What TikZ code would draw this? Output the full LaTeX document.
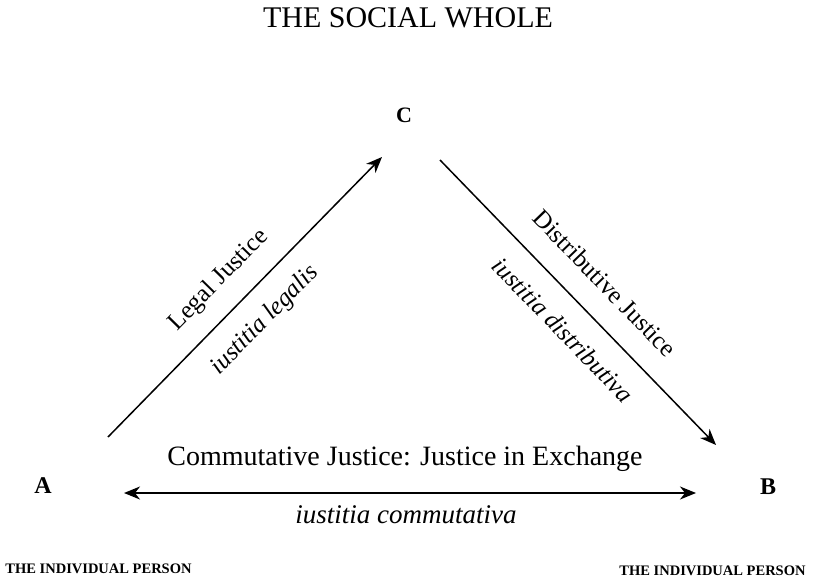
\documentclass[tikz,border=0pt]{standalone}
\usepackage{fontspec}
\setmainfont{Liberation Serif}
\usetikzlibrary{arrows.meta}
\newcommand{\fsz}[1]{\fontsize{#1}{#1}\selectfont}
\begin{document}
\begin{tikzpicture}[x=1pt,y=-1pt,line width=1.5pt,
    tip/.style={-{Stealth[length=16pt,width=13pt,inset=5pt]}},
    tips/.style={{Stealth[length=16pt,width=13pt,inset=5pt]}-{Stealth[length=16pt,width=13pt,inset=5pt]}}]
            \useasboundingbox (0,0) rectangle (813,578);
            \node[anchor=base] (title) at (408,28) {\fsz{30}THE SOCIAL WHOLE};
            \node[anchor=base] (C) at (404,122) {\fsz{22}\bfseries C};
            \node[anchor=base] (A) at (43,493) {\fsz{24}\bfseries A};
            \node[anchor=base] (B) at (768,494) {\fsz{24}\bfseries B};
            \coordinate (aTail) at (108,437);
            \coordinate (cHead) at (382,157);
            \coordinate (cTail) at (440,160);
            \coordinate (bHead) at (716,445);
            \coordinate (aEnd) at (124,493);
            \coordinate (bEnd) at (696,493);
            \draw[tip] (aTail) -- (cHead);
            \draw[tip] (cTail) -- (bHead);
            \draw[tips] (aEnd) -- (bEnd);
            \node[rotate=45.6] (legal) at (219,280) {\fsz{25}Legal Justice};
            \node[rotate=45.6] (legalLat) at (265,320) {\fsz{25}\itshape iustitia legalis};
            \node[rotate=-46] (distrib) at (605,283) {\fsz{25}Distributive Justice};
            \node[rotate=-46] (distribLat) at (563,330) {\fsz{25}\itshape iustitia distributiva};
            \node[anchor=base] (commut) at (405,465) {\fsz{28}Commutative Justice: Justice in Exchange};
            \node[anchor=base] (commutLat) at (406,523) {\fsz{27}\itshape iustitia commutativa};
            \node[anchor=base] (personA) at (98.5,573) {\fsz{14.5}\bfseries THE INDIVIDUAL PERSON};
            \node[anchor=base] (personB) at (712.5,575) {\fsz{14.5}\bfseries THE INDIVIDUAL PERSON};
        \end{tikzpicture}
\end{document}
